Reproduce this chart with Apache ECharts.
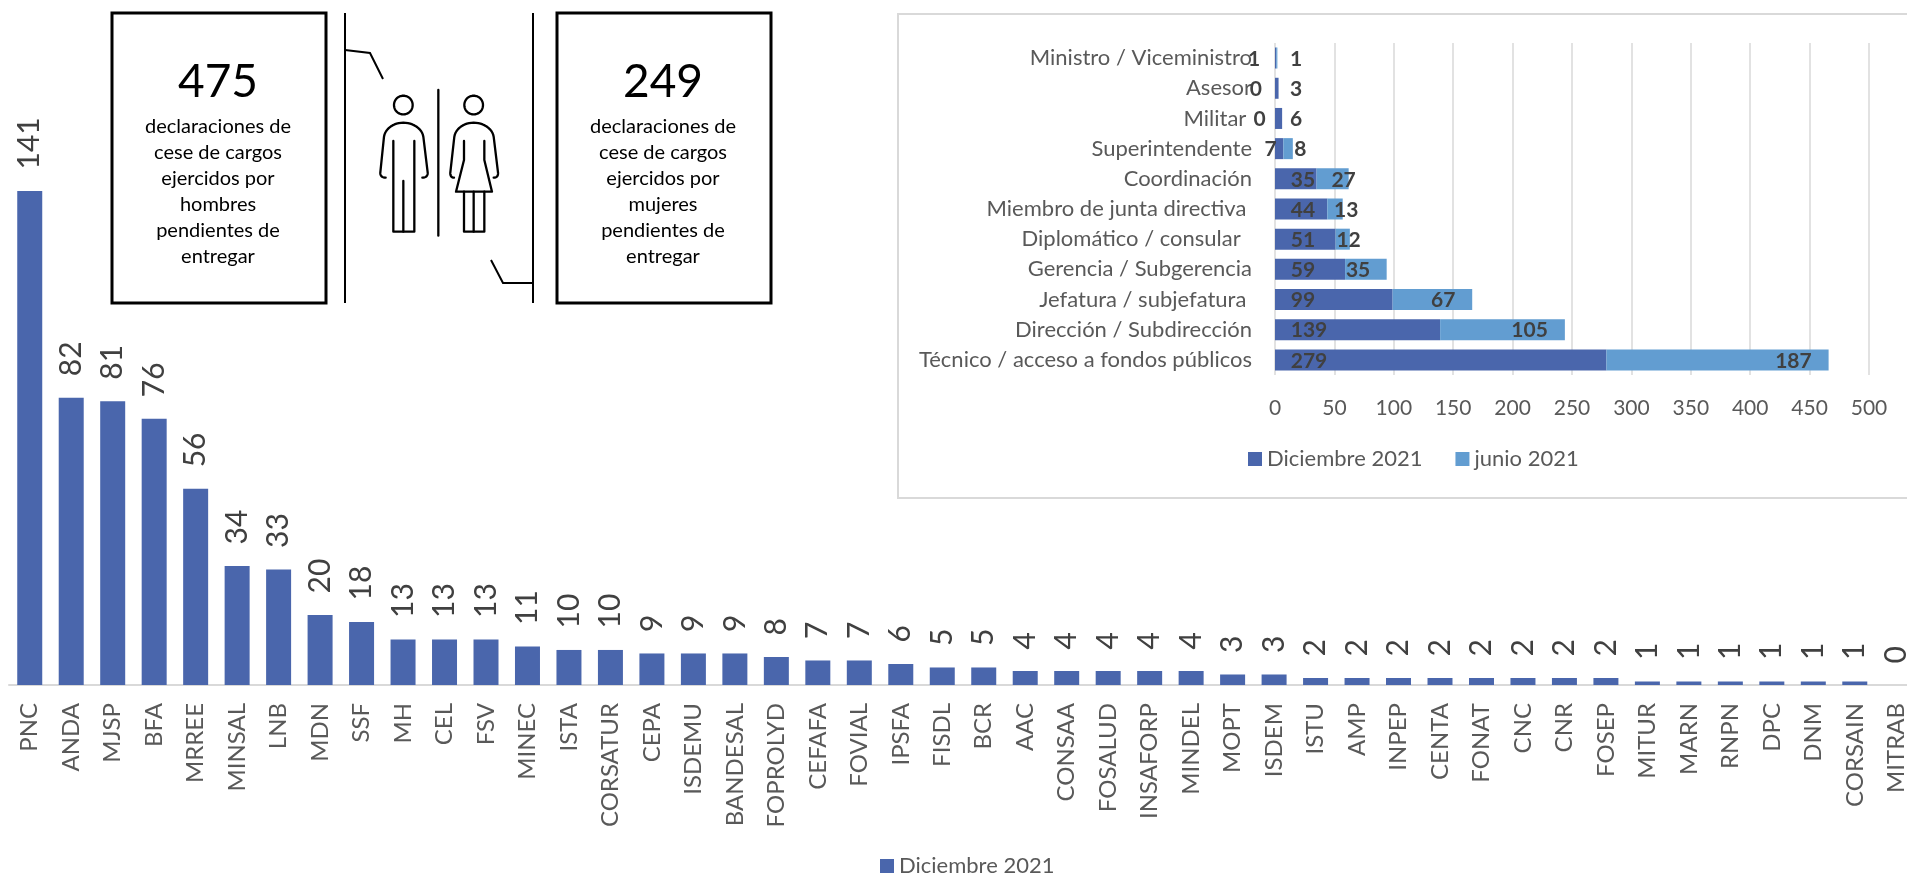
<!DOCTYPE html>
<html>
<head>
<meta charset="utf-8">
<style>html,body{margin:0;padding:0;background:#fff;overflow:hidden}#c{width:1907px;height:877px}</style>
<script src="https://cdn.jsdelivr.net/npm/echarts@6/dist/echarts.min.js"></script>
</head>
<body>
<div id="c"></div>
<script>
const institutions = ['PNC','ANDA','MJSP','BFA','MRREE','MINSAL','LNB','MDN','SSF','MH','CEL','FSV','MINEC','ISTA','CORSATUR','CEPA','ISDEMU','BANDESAL','FOPROLYD','CEFAFA','FOVIAL','IPSFA','FISDL','BCR','AAC','CONSAA','FOSALUD','INSAFORP','MINDEL','MOPT','ISDEM','ISTU','AMP','INPEP','CENTA','FONAT','CNC','CNR','FOSEP','MITUR','MARN','RNPN','DPC','DNM','CORSAIN','MITRAB'];
const institutionValues = [141,82,81,76,56,34,33,20,18,13,13,13,11,10,10,9,9,9,8,7,7,6,5,5,4,4,4,4,4,3,3,2,2,2,2,2,2,2,2,1,1,1,1,1,1,0];
const positions = ['Ministro / Viceministro','Asesor','Militar ','Superintendente','Coordinación','Miembro de junta directiva ','Diplomático / consular  ','Gerencia / Subgerencia','Jefatura / subjefatura ','Dirección / Subdirección','Técnico / acceso a fondos públicos'];
const dic2021 = [1,3,6,7,35,44,51,59,99,139,279];
const jun2021 = [1,0,0,8,27,13,12,35,67,105,187];
const dicLabelDx = [-21,21,21,-4.5,28,28,28,28,28,34,34];
const junLabelDx = [20,-22.6,-22.6,17,27,19,13,13,50.6,89.5,187];
const xTicks = {min:0,max:500,interval:50};
const seriesDic = 'Diciembre 2021', seriesJun = 'junio 2021';
const menText = 'declaraciones de\ncese de cargos\nejercidos por\nhombres\npendientes de\nentregar';
const womenText = 'declaraciones de\ncese de cargos\nejercidos por\nmujeres\npendientes de\nentregar';

const FONT = 'Lato, Carlito, Calibri, sans-serif';
const BLUE = '#4a66ac', LIGHT = '#629dd1', GREY = '#595959', RULE = '#d9d9d9';

function box(x){return {type:'rect',shape:{x:x,y:13,width:214,height:290},style:{fill:'none',stroke:'#000',lineWidth:3}};}
function big(x,t){return {type:'text',style:{text:t,x:x,y:82,font:'46px '+FONT,fill:'#000',textAlign:'center',textVerticalAlign:'middle'}};}
function para(x,t){return {type:'text',style:{text:t,x:x,y:192,font:'20px '+FONT,lineHeight:26,fill:'#000',textAlign:'center',textVerticalAlign:'middle'}};}
function ln(pts,w){return {type:'polyline',shape:{points:pts},style:{fill:'none',stroke:'#000',lineWidth:w||2}};}
// Decorative pictogram: a tiny path reader flattens M/L/C commands to polylines.
function flatten(d){
  const t=d.trim().split(/\s+/), subs=[]; let cur=null, i=0, p=[0,0];
  const n=()=>{const a=t[i]; i++; return a;};
  while(i<t.length){
    const tok=t[i];
    if(/^[A-Z]/.test(tok)){
      const c=tok[0]; const rest=tok.slice(1); i++;
      const num=()=>{ return parseFloat(n()); };
      let x0=rest?parseFloat(rest):null;
      const first=()=>{ if(x0!==null){const v=x0;x0=null;return v;} return num(); };
      if(c==='M'){ p=[first(),num()]; cur=[p.slice()]; subs.push(cur); }
      else if(c==='L'){ p=[first(),num()]; cur.push(p.slice()); }
      else if(c==='C'){
        const a=[first(),num()], b=[num(),num()], e=[num(),num()];
        for(let k=1;k<=12;k++){ const u=k/12, v=1-u;
          cur.push([v*v*v*p[0]+3*v*v*u*a[0]+3*v*u*u*b[0]+u*u*u*e[0], v*v*v*p[1]+3*v*v*u*a[1]+3*v*u*u*b[1]+u*u*u*e[1]]); }
        p=e;
      }
    } else i++;
  }
  return subs;
}
function icon(d){
  return flatten(d).map(pts=>({type:'polyline',shape:{points:pts.map(q=>[370+q[0]/3,85+q[1]/3])},style:{fill:'none',stroke:'#000',lineWidth:2.3,lineJoin:'round',lineCap:'round'}}));
}

const graphics = [
  {type:'rect',z:-1,shape:{x:898,y:14,width:1100,height:484},style:{fill:'#fff',stroke:RULE,lineWidth:2}},
  box(112),box(557),
  big(218,'475'),big(663,'249'),
  para(218,menText),para(663,womenText),
  ln([[345,13],[345,303]]),ln([[533,13],[533,303]]),
  ln([[345,50],[370,53],[383,79]]),ln([[491,260],[503,283],[533,283]])
].concat(
  icon('M100 32 C116 32 128 45 128 60 C128 76 116 88 100 88 C84 88 72 76 72 60 C72 45 84 32 100 32'),
  icon('M47 278 C36 278 30 272 31 262 L42 155 C46 130 72 113 100 113 C128 113 156 130 160 155 L173 262 C174 272 168 278 157 278'),
  icon('M70 168 L70 440 L133 440 L133 168 M100 288 L100 440'),
  icon('M205 15 L205 452'),
  icon('M311 32 C327 32 339 45 339 60 C339 76 327 88 311 88 C295 88 283 76 283 60 C283 45 295 32 311 32'),
  icon('M252 278 C244 278 240 272 241 262 L253 155 C257 130 283 113 311 113 C339 113 367 130 371 155 L384 262 C385 272 381 278 371 278'),
  icon('M282 168 L282 225 L258 320 L366 320 L343 225 L343 168 M282 320 L282 440 L343 440 L343 320 M311 320 L311 440')
);

const chart = echarts.init(document.getElementById('c'),null,{renderer:'canvas'});
chart.setOption({
  animation:false,
  backgroundColor:'#fff',
  textStyle:{fontFamily:FONT},
  graphic:{elements:graphics},
  legend:[
    {data:[seriesDic],left:880,top:855,itemWidth:14,itemHeight:14,itemGap:5,icon:'rect',padding:0,textStyle:{fontFamily:FONT,fontSize:22,color:GREY}},
    {data:[seriesDic,seriesJun],left:1248,top:448,itemWidth:14,itemHeight:14,itemGap:33,icon:'rect',padding:0,textStyle:{fontFamily:FONT,fontSize:22,color:GREY}}
  ],
  grid:[
    {left:9,top:191,width:1908,height:494,outerBoundsMode:'none'},
    {left:1275,top:43,width:594,height:332,outerBoundsMode:'none'}
  ],
  xAxis:[
    {type:'category',gridIndex:0,data:institutions,axisTick:{show:false},
     axisLine:{lineStyle:{color:RULE,width:2}},
     axisLabel:{interval:0,rotate:90,margin:18,fontFamily:FONT,fontSize:24,color:GREY}},
    {type:'value',gridIndex:1,min:xTicks.min,max:xTicks.max,interval:xTicks.interval,
     axisLine:{show:false},axisTick:{show:false},
     splitLine:{lineStyle:{color:RULE,width:1.5}},
     axisLabel:{margin:23,fontFamily:FONT,fontSize:21,color:GREY}}
  ],
  yAxis:[
    {type:'value',gridIndex:0,min:0,max:141,show:false,splitLine:{show:false}},
    {type:'category',gridIndex:1,inverse:true,data:positions,axisTick:{show:false},
     axisLine:{show:false},
     axisLabel:{interval:0,margin:23,fontFamily:FONT,fontSize:22,color:GREY}}
  ],
  series:[
    {name:seriesDic,type:'bar',xAxisIndex:0,yAxisIndex:0,data:institutionValues,barWidth:25,
     itemStyle:{color:BLUE},
     label:{show:true,position:'top',distance:18,rotate:90,align:'left',verticalAlign:'middle',offset:[3.5,0],
       fontFamily:FONT,fontSize:30,color:'#404040'}},
    {name:seriesDic,type:'bar',xAxisIndex:1,yAxisIndex:1,stack:'s',barWidth:21,
     itemStyle:{color:BLUE},
     data:dic2021.map((v,i)=>({value:v,label:{offset:[dicLabelDx[i],1]}})),
     label:{show:true,position:'insideLeft',distance:0,align:'center',fontFamily:FONT,fontSize:21,fontWeight:'bold',color:'#404040'}},
    {name:seriesJun,type:'bar',xAxisIndex:1,yAxisIndex:1,stack:'s',barWidth:21,
     itemStyle:{color:LIGHT},
     data:jun2021.map((v,i)=>({value:v,label:{offset:[junLabelDx[i],1]}})),
     label:{show:true,position:'insideLeft',distance:0,align:'center',fontFamily:FONT,fontSize:21,fontWeight:'bold',color:'#404040'}}
  ]
});
</script>
</body>
</html>
